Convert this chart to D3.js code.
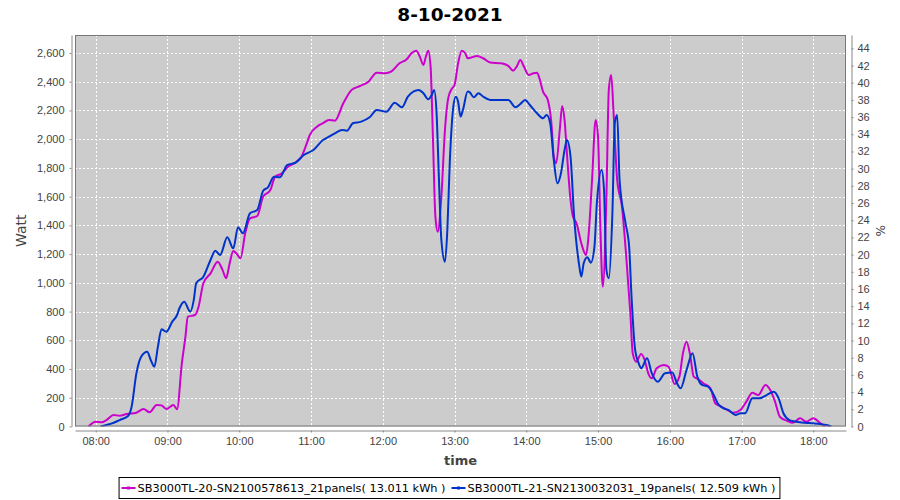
<!DOCTYPE html>
<html>
<head>
<meta charset="UTF-8">
<title>8-10-2021</title>
<style>
body { margin: 0; background: #fff; }
svg { display: block; font-family: "DejaVu Sans", sans-serif; }
.axis text { fill: #444; font-size: 11px; }
.axis path, .axis line { stroke: #888; }
.grid line { stroke: #fff; stroke-width: 1; stroke-dasharray: 2,2; }
.series { fill: none; stroke-width: 2; }
</style>
</head>
<body>
<svg width="900" height="500"></svg>
<script src="https://cdn.jsdelivr.net/npm/d3@7"></script>
<script>
// series 1: SB3000TL-20 (magenta)
var s1Times = ["07:54","08:00","08:05","08:09","08:15","08:20","08:26","08:34","08:40","08:45","08:51","08:55","08:59","09:05","09:08","09:12","09:15","09:17","09:23","09:26","09:30","09:36","09:42","09:46","09:49","09:52","09:55","09:58","10:01","10:05","10:09","10:15","10:20","10:26","10:30","10:35","10:41","10:48","10:52","10:56","10:59","11:05","11:10","11:15","11:20","11:27","11:34","11:41","11:48","11:55","12:02","12:07","12:14","12:20","12:24","12:28","12:31","12:34","12:36","12:38","12:40","12:42","12:44","12:46","12:49","12:52","12:55","12:58","13:00","13:03","13:06","13:09","13:11","13:19","13:24","13:30","13:39","13:45","13:49","13:52","13:55","13:58","14:02","14:06","14:09","14:11","14:14","14:18","14:21","14:23","14:25","14:28","14:30","14:32","14:34","14:37","14:39","14:42","14:46","14:50","14:52","14:55","14:58","15:00","15:02","15:04","15:07","15:09","15:11","15:13","15:16","15:20","15:24","15:27","15:29","15:32","15:36","15:39","15:42","15:45","15:49","15:55","15:59","16:04","16:08","16:11","16:14","16:17","16:20","16:24","16:28","16:34","16:38","16:42","16:48","16:53","16:59","17:04","17:09","17:14","17:20","17:24","17:28","17:32","17:38","17:43","17:49","17:54","18:00","18:06","18:10"];
var s1Watts = [0,33,29,45,80,75,87,96,122,99,
  150,147,122,150,120,440,625,764,776,834,
  997,1066,1147,1090,1032,1136,1222,1201,1171,1345,
  1449,1465,1600,1646,1739,1758,1809,1843,1878,1960,
  2029,2087,2111,2134,2129,2250,2343,2370,2400,2463,
  2459,2470,2528,2556,2598,2616,2574,2517,2574,2616,
  2505,1994,1461,1356,1600,2064,2296,2354,2377,2528,
  2616,2598,2563,2579,2563,2533,2528,2510,2477,2505,
  2551,2505,2447,2459,2463,2424,2331,2273,2111,1878,
  1832,2064,2231,2134,1900,1577,1461,1415,1275,1194,
  1321,1716,2134,2017,1368,973,1600,2343,2447,2180,
  1716,1530,1136,788,510,451,505,463,370,335,
  405,428,416,296,347,510,590,498,347,329,
  301,266,162,143,115,96,115,173,235,219,
  289,254,173,68,40,26,57,33,57,22,
  0];

// series 2: SB3000TL-21 (blue)
var s2Times = ["08:04","08:15","08:20","08:27","08:30","08:34","08:38","08:43","08:46","08:49","08:52","08:55","08:59","09:04","09:08","09:10","09:14","09:19","09:22","09:24","09:30","09:36","09:40","09:44","09:50","09:55","09:59","10:03","10:09","10:15","10:20","10:24","10:29","10:34","10:40","10:47","10:54","11:02","11:10","11:15","11:20","11:26","11:30","11:35","11:42","11:49","11:55","12:03","12:10","12:16","12:21","12:30","12:34","12:38","12:41","12:43","12:45","12:47","12:49","12:52","12:54","12:56","12:59","13:01","13:03","13:05","13:07","13:11","13:13","13:16","13:20","13:24","13:30","13:38","13:45","13:51","13:55","13:59","14:03","14:09","14:14","14:17","14:20","14:23","14:26","14:29","14:32","14:34","14:37","14:40","14:44","14:46","14:48","14:51","14:54","14:57","14:59","15:03","15:05","15:07","15:09","15:12","15:14","15:16","15:18","15:23","15:26","15:28","15:31","15:34","15:36","15:41","15:45","15:50","15:56","16:02","16:06","16:09","16:14","16:19","16:23","16:27","16:32","16:36","16:41","16:45","16:49","16:55","16:59","17:03","17:09","17:15","17:21","17:27","17:31","17:35","17:40","17:46","17:53","18:00","18:06","18:11","18:15"];
var s2Watts = [0,26,45,73,138,370,486,521,463,416,
  556,677,660,730,776,823,869,799,881,997,
  1043,1159,1224,1194,1317,1240,1387,1345,1484,1507,
  1641,1665,1739,1735,1820,1836,1890,1925,1994,2017,
  2041,2064,2059,2111,2122,2152,2203,2191,2254,2222,
  2296,2343,2320,2278,2308,2343,2180,1716,1298,1147,
  1368,1832,2226,2296,2261,2157,2203,2331,2324,2291,
  2320,2296,2273,2273,2273,2222,2245,2273,2238,2180,
  2145,2168,2111,1855,1693,1763,1925,1994,1878,1461,
  1136,1043,1136,1178,1140,1252,1554,1786,1646,1090,
  1032,1484,2111,2168,1716,1415,1252,904,533,440,
  405,475,370,312,370,375,301,266,393,510,
  347,289,277,231,150,127,115,80,92,92,
  196,196,219,242,196,92,45,33,26,22,
  17,10,0];

var seriesNames = ["SB3000TL-20-SN2100578613_21panels( 13.011 kWh )",
                   "SB3000TL-21-SN2130032031_19panels( 12.509 kWh )"];
var seriesColors = ["#cc00cc", "#0033cc"];

var wattTicks = [0,200,400,600,800,1000,1200,1400,1600,1800,2000,2200,2400,2600];
var pctTicks = [0,2,4,6,8,10,12,14,16,18,20,22,24,26,28,30,32,34,36,38,40,42,44];

var svg = d3.select("svg"),
    plot = {left: 75, right: 846, top: 35, bottom: 426.5},
    parseTime = d3.timeParse("%H:%M");

var x = d3.scaleTime()
    .domain([new Date(1900, 0, 1, 7, 42, 40), new Date(1900, 0, 1, 18, 27, 20)])
    .range([plot.left, plot.right]);
var y = d3.scaleLinear().domain([0, 2725]).range([plot.bottom, plot.top]);
var yPct = d3.scaleLinear().domain([0, 45.55]).range([plot.bottom, plot.top]);

// title
svg.append("text")
    .attr("x", 450).attr("y", 21)
    .attr("text-anchor", "middle")
    .style("font-size", "18.5px").style("font-weight", "bold").style("fill", "#000")
    .text("8-10-2021");

// plot background
svg.append("rect")
    .attr("x", plot.left).attr("y", plot.top)
    .attr("width", plot.right - plot.left).attr("height", plot.bottom - plot.top)
    .attr("fill", "#cccccc");

// grid
var hourTicks = x.ticks(d3.timeHour.every(1));
var grid = svg.append("g").attr("class", "grid");
grid.selectAll("line.h").data(wattTicks).enter().append("line")
    .attr("x1", plot.left).attr("x2", plot.right)
    .attr("y1", d => Math.round(y(d)) + 0.5).attr("y2", d => Math.round(y(d)) + 0.5);
grid.selectAll("line.v").data(hourTicks).enter().append("line")
    .attr("y1", plot.top).attr("y2", plot.bottom)
    .attr("x1", d => Math.round(x(d)) + 0.5).attr("x2", d => Math.round(x(d)) + 0.5);

// lines
svg.append("clipPath").attr("id", "clip").append("rect")
    .attr("x", plot.left).attr("y", plot.top)
    .attr("width", plot.right - plot.left).attr("height", plot.bottom - plot.top);

var line = d3.line()
    .x(d => x(d.t))
    .y(d => y(d.w))
    .curve(d3.curveMonotoneX);

var series = [
  s1Times.map((t, i) => ({t: parseTime(t), w: s1Watts[i]})),
  s2Times.map((t, i) => ({t: parseTime(t), w: s2Watts[i]}))
];

svg.append("g").attr("clip-path", "url(#clip)")
  .selectAll("path").data(series).enter().append("path")
    .attr("class", "series")
    .attr("stroke", (d, i) => seriesColors[i])
    .attr("d", line);

// plot border
svg.append("rect")
    .attr("x", plot.left + 0.5).attr("y", plot.top + 0.5)
    .attr("width", plot.right - plot.left - 1).attr("height", plot.bottom - plot.top - 1)
    .attr("fill", "none").attr("stroke", "#777");

// axes
svg.append("g").attr("class", "axis")
    .attr("transform", "translate(71.5,0)")
    .call(d3.axisLeft(y).tickValues(wattTicks).tickFormat(d3.format(",")).tickSize(2).tickSizeOuter(0).tickPadding(5));

svg.append("g").attr("class", "axis")
    .attr("transform", "translate(851.5,0)")
    .call(d3.axisRight(yPct).tickValues(pctTicks).tickSize(2).tickSizeOuter(0).tickPadding(4));

svg.append("g").attr("class", "axis")
    .attr("transform", "translate(0,430.5)")
    .call(d3.axisBottom(x).ticks(d3.timeHour.every(1)).tickFormat(d3.timeFormat("%H:%M")).tickSize(2).tickSizeOuter(0).tickPadding(4.5));

svg.selectAll(".axis .domain").attr("stroke", "#888");

// axis labels
svg.append("text")
    .attr("transform", "translate(26," + (plot.top + plot.bottom) / 2 + ") rotate(-90)")
    .attr("text-anchor", "middle")
    .style("font-size", "14px").style("fill", "#444")
    .text("Watt");

svg.append("text")
    .attr("x", (plot.left + plot.right) / 2).attr("y", 465)
    .attr("text-anchor", "middle")
    .style("font-size", "13px").style("font-weight", "bold").style("fill", "#444")
    .text("time");

svg.append("text")
    .attr("transform", "translate(876," + (plot.top + plot.bottom) / 2 + ") rotate(90)")
    .attr("text-anchor", "middle")
    .style("font-size", "12px").style("fill", "#444")
    .text("%");

// legend
var legend = svg.append("g");
var legendBox = legend.append("rect")
    .attr("fill", "#fff").attr("stroke", "#000");
var cursor = 0;
seriesNames.forEach((name, i) => {
  var item = legend.append("g").attr("transform", "translate(" + cursor + ",0)");
  item.append("line")
      .attr("x1", 0).attr("x2", 14).attr("y1", 0).attr("y2", 0)
      .attr("stroke", seriesColors[i]).attr("stroke-width", 2);
  item.append("rect")
      .attr("x", 5.5).attr("y", -1.5).attr("width", 3).attr("height", 3)
      .attr("fill", seriesColors[i]);
  var txt = item.append("text")
      .attr("x", 16).attr("y", 4)
      .style("font-size", "11.3px").style("fill", "#000")
      .text(name);
  cursor += 16 + txt.node().getComputedTextLength() + 6;
});
var legendWidth = cursor - 6 + 2 + 5;
legend.attr("transform", "translate(" + (450 - legendWidth / 2 + 2) + ",488)");
legendBox
    .attr("x", -2.5).attr("y", -10.5)
    .attr("width", legendWidth).attr("height", 21);
</script>
</body>
</html>
